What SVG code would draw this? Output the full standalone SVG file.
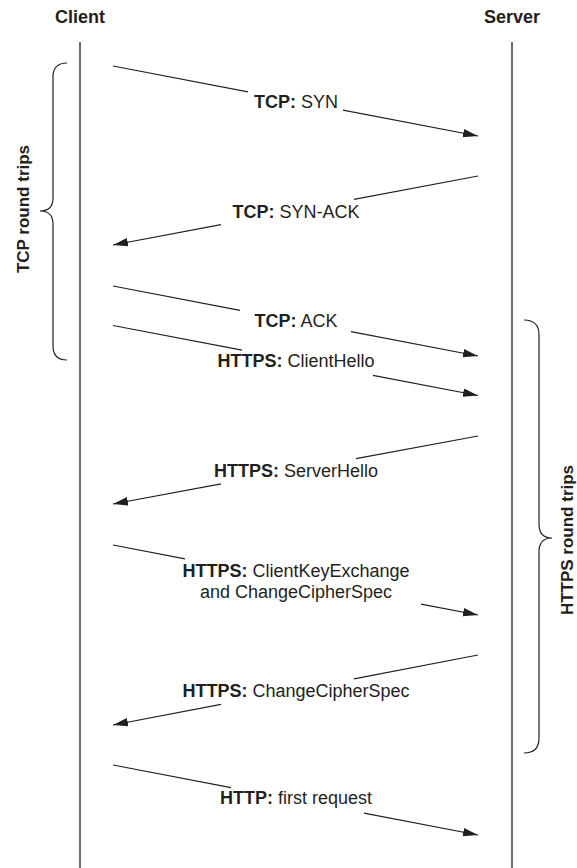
<svg xmlns="http://www.w3.org/2000/svg" width="577" height="868" viewBox="0 0 577 868">
<style>
  .bg { fill: #ffffff; }
  .life { stroke: #231f20; stroke-width: 1.3; fill: none; }
  .msg { stroke: #231f20; stroke-width: 1.2; fill: none; }
  .brace { stroke: #231f20; stroke-width: 1.2; fill: none; }
  .title { font-family: "Liberation Sans", Arial, sans-serif; font-size: 18px; font-weight: bold; fill: #231f20; text-anchor: middle; }
  .lbl { font-family: "Liberation Sans", Arial, sans-serif; font-size: 18px; fill: #231f20; text-anchor: middle; }
  .lbl .b { font-weight: bold; }
  .side { font-family: "Liberation Sans", Arial, sans-serif; font-size: 17px; font-weight: bold; fill: #231f20; text-anchor: middle; }
</style>
<defs>
  <marker id="arrow" markerUnits="userSpaceOnUse" markerWidth="16" markerHeight="9" refX="15" refY="4.25" orient="auto">
    <path d="M0,0 L15,4.25 L0,8.5 z" fill="#231f20"/>
  </marker>
</defs>
<rect class="bg" x="0" y="0" width="577" height="868"/>

<g id="client">
  <text class="title" x="80" y="23">Client</text>
  <line class="life" x1="80" y1="42" x2="80" y2="868"/>
</g>
<g id="server">
  <text class="title" x="512" y="23">Server</text>
  <line class="life" x1="512" y1="42" x2="512" y2="868"/>
</g>

<g id="tcp-round-trips">
  <path class="brace" d="M67,63 Q53,63 53,77 L53,198 Q53,211 40,211 Q53,211 53,224 L53,346 Q53,360 67,360"/>
  <text class="side" x="29" y="209" transform="rotate(-90 29 209)">TCP round trips</text>
</g>
<g id="https-round-trips">
  <path class="brace" d="M524,320 Q539,320 539,335 L539,524 Q539,538 552,538 Q539,538 539,552 L539,738 Q539,753 524,753"/>
  <text class="side" x="573" y="540" transform="rotate(-90 573 540)">HTTPS round trips</text>
</g>

<g id="connectors">
  <g id="msg-syn">
    <line class="msg" x1="113" y1="66" x2="248" y2="91.9"/>
    <line class="msg" x1="343" y1="110.1" x2="478" y2="136" marker-end="url(#arrow)"/>
    <text class="lbl" x="296" y="108"><tspan class="b">TCP:</tspan> SYN</text>
  </g>
  <g id="msg-synack">
    <line class="msg" x1="478" y1="176" x2="354" y2="199.4"/>
    <line class="msg" x1="221" y1="224.6" x2="113" y2="245" marker-end="url(#arrow)"/>
    <text class="lbl" x="296" y="218"><tspan class="b">TCP:</tspan> SYN-ACK</text>
  </g>
  <g id="msg-ack">
    <line class="msg" x1="113" y1="286" x2="240" y2="310.4"/>
    <line class="msg" x1="351" y1="331.6" x2="478" y2="356" marker-end="url(#arrow)"/>
    <text class="lbl" x="296" y="327"><tspan class="b">TCP:</tspan> ACK</text>
  </g>
  <g id="msg-clienthello">
    <line class="msg" x1="113" y1="325.5" x2="242" y2="350.2"/>
    <line class="msg" x1="373" y1="375.4" x2="478" y2="395.5" marker-end="url(#arrow)"/>
    <text class="lbl" x="296" y="366.5"><tspan class="b">HTTPS:</tspan> ClientHello</text>
  </g>
  <g id="msg-serverhello">
    <line class="msg" x1="478" y1="436" x2="356" y2="458.7"/>
    <line class="msg" x1="221" y1="483.9" x2="113" y2="504" marker-end="url(#arrow)"/>
    <text class="lbl" x="296" y="476.5"><tspan class="b">HTTPS:</tspan> ServerHello</text>
  </g>
  <g id="msg-clientkeyexchange">
    <line class="msg" x1="113" y1="545" x2="185" y2="558.8"/>
    <line class="msg" x1="421" y1="604.1" x2="478" y2="615" marker-end="url(#arrow)"/>
    <text class="lbl" x="296" y="577"><tspan class="b">HTTPS:</tspan> ClientKeyExchange</text>
    <text class="lbl" x="296" y="598">and ChangeCipherSpec</text>
  </g>
  <g id="msg-changecipherspec">
    <line class="msg" x1="478" y1="655" x2="354" y2="678.8"/>
    <line class="msg" x1="221" y1="704.3" x2="113" y2="725" marker-end="url(#arrow)"/>
    <text class="lbl" x="296" y="696.5"><tspan class="b">HTTPS:</tspan> ChangeCipherSpec</text>
  </g>
  <g id="msg-first-request">
    <line class="msg" x1="113" y1="765" x2="231" y2="787.6"/>
    <line class="msg" x1="364" y1="813.1" x2="478" y2="835" marker-end="url(#arrow)"/>
    <text class="lbl" x="296" y="804"><tspan class="b">HTTP:</tspan> first request</text>
  </g>
</g>
</svg>
